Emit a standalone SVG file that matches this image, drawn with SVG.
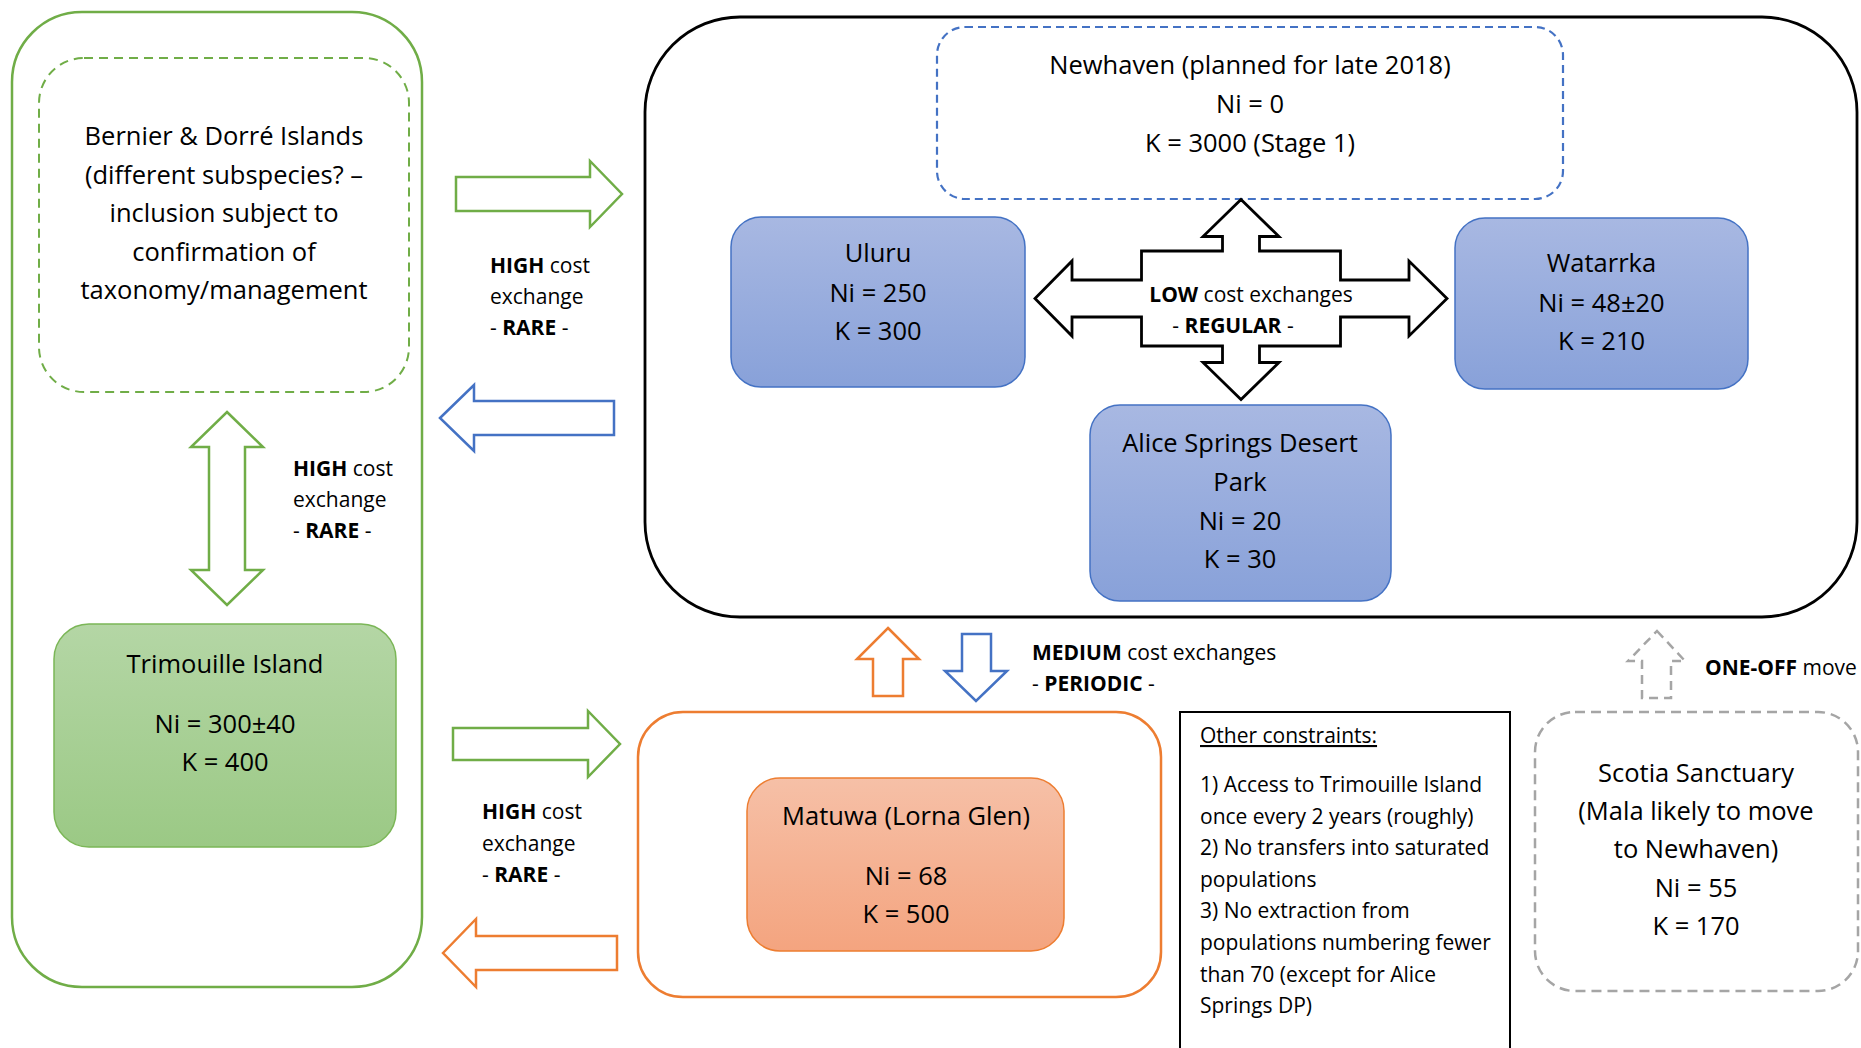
<svg xmlns="http://www.w3.org/2000/svg" width="1861" height="1048" viewBox="0 0 1861 1048">
<defs>
<linearGradient id="gBlue" x1="0" y1="0" x2="0" y2="1"><stop offset="0" stop-color="#A8B8E2"/><stop offset="1" stop-color="#88A1D9"/></linearGradient>
<linearGradient id="gGreen" x1="0" y1="0" x2="0" y2="1"><stop offset="0" stop-color="#B4D6A5"/><stop offset="1" stop-color="#9BC985"/></linearGradient>
<linearGradient id="gOrange" x1="0" y1="0" x2="0" y2="1"><stop offset="0" stop-color="#F6C0A7"/><stop offset="1" stop-color="#F4A47F"/></linearGradient>
<style>
text{font-family:"Open Sans","Noto Sans",sans-serif;fill:#000}
.n{font-size:25.5px;text-anchor:middle}
.s{font-size:21px}
.c{text-anchor:middle}
.b{font-weight:bold}
.green{fill:none;stroke:#70AD47;stroke-width:2.5}
.blue{fill:none;stroke:#4472C4;stroke-width:2.5}
.orange{fill:none;stroke:#ED7D31;stroke-width:2.5}
</style>
</defs>
<rect width="1861" height="1048" fill="#fff"/>

<g id="west-group">
<rect x="12" y="12" width="410" height="975" rx="70" class="green"/>
</g>
<g id="bernier-dorre">
<rect x="39" y="58" width="370" height="334" rx="45" fill="none" stroke="#70AD47" stroke-width="2" stroke-dasharray="9 6"/>
<text class="n" x="224" y="145">Bernier &amp; Dorré Islands</text>
<text class="n" x="224" y="183.5">(different subspecies? –</text>
<text class="n" x="224" y="222">inclusion subject to</text>
<text class="n" x="224" y="260.5">confirmation of</text>
<text class="n" x="224" y="299">taxonomy/management</text>
</g>
<g id="trimouille">
<rect x="54" y="624" width="342" height="223" rx="35" fill="url(#gGreen)" stroke="#7BB657" stroke-width="1.5"/>
<text class="n" x="225" y="673">Trimouille Island</text>
<text class="n" x="225" y="733">Ni = 300±40</text>
<text class="n" x="225" y="771">K = 400</text>
</g>

<g id="central-group">
<rect x="645" y="17" width="1212" height="600" rx="95" fill="none" stroke="#000" stroke-width="2.8"/>
</g>
<g id="newhaven">
<rect x="937" y="27" width="626" height="172" rx="28" fill="none" stroke="#4472C4" stroke-width="2.2" stroke-dasharray="8 5"/>
<text class="n" x="1250" y="74">Newhaven (planned for late 2018)</text>
<text class="n" x="1250" y="113">Ni = 0</text>
<text class="n" x="1250" y="152">K = 3000 (Stage 1)</text>
</g>
<g id="uluru">
<rect x="731" y="217" width="294" height="170" rx="30" fill="url(#gBlue)" stroke="#4472C4" stroke-width="1.5"/>
<text class="n" x="878" y="262">Uluru</text>
<text class="n" x="878" y="302">Ni = 250</text>
<text class="n" x="878" y="340">K = 300</text>
</g>
<g id="watarrka">
<rect x="1455" y="218" width="293" height="171" rx="30" fill="url(#gBlue)" stroke="#4472C4" stroke-width="1.5"/>
<text class="n" x="1601.5" y="272">Watarrka</text>
<text class="n" x="1601.5" y="312">Ni = 48±20</text>
<text class="n" x="1601.5" y="350">K = 210</text>
</g>
<g id="alice-springs">
<rect x="1090" y="405" width="301" height="196" rx="30" fill="url(#gBlue)" stroke="#4472C4" stroke-width="1.5"/>
<text class="n" x="1240" y="452">Alice Springs Desert</text>
<text class="n" x="1240" y="491">Park</text>
<text class="n" x="1240" y="530">Ni = 20</text>
<text class="n" x="1240" y="568">K = 30</text>
</g>

<g id="matuwa-group">
<rect x="638" y="712" width="523" height="285" rx="45" class="orange"/>
</g>
<g id="matuwa">
<rect x="747" y="778" width="317" height="173" rx="33" fill="url(#gOrange)" stroke="#ED7D31" stroke-width="1.5"/>
<text class="n" x="906" y="825">Matuwa (Lorna Glen)</text>
<text class="n" x="906" y="885">Ni = 68</text>
<text class="n" x="906" y="923">K = 500</text>
</g>

<g id="other-constraints">
<rect x="1180" y="712" width="330" height="400" fill="none" stroke="#000" stroke-width="2"/>
<text class="s" x="1200" y="743" text-decoration="underline">Other constraints:</text>
<text class="s" x="1200" y="792">1) Access to Trimouille Island</text>
<text class="s" x="1200" y="824">once every 2 years (roughly)</text>
<text class="s" x="1200" y="855">2) No transfers into saturated</text>
<text class="s" x="1200" y="887">populations</text>
<text class="s" x="1200" y="918">3) No extraction from</text>
<text class="s" x="1200" y="950">populations numbering fewer</text>
<text class="s" x="1200" y="982">than 70 (except for Alice</text>
<text class="s" x="1200" y="1013">Springs DP)</text>
</g>

<g id="scotia">
<rect x="1535" y="712" width="323" height="279" rx="40" fill="none" stroke="#A5A5A5" stroke-width="2.5" stroke-dasharray="10 6"/>
<text class="n" x="1696" y="782">Scotia Sanctuary</text>
<text class="n" x="1696" y="820">(Mala likely to move</text>
<text class="n" x="1696" y="858">to Newhaven)</text>
<text class="n" x="1696" y="897">Ni = 55</text>
<text class="n" x="1696" y="935">K = 170</text>
</g>

<g id="connectors">
<path class="green" d="M456,177 H590 V161 L622,194 L590,227 V211 H456 Z"/>
<path class="blue" d="M440,418 L474,385 V401 H614 V435 H474 V451 Z"/>
<path class="green" d="M227,412 L263,447 H245 V570 H263 L227,605 L191,570 H209 V447 H191 Z"/>
<path class="green" d="M453,728 H588 V711 L620,744 L588,777 V760 H453 Z"/>
<path class="orange" d="M443,953 L476,919 V936 H617 V970 H476 V987 Z"/>
<path class="orange" d="M888,628 L919,659 H903 V696 H873 V659 H857 Z"/>
<path class="blue" d="M962,634 H991 V671 H1007 L976,701 L945,671 H962 Z"/>
<path d="M1657,631 L1685,661 H1671 V698 H1642 V661 H1628 Z" fill="none" stroke="#A5A5A5" stroke-width="2.5" stroke-dasharray="9 6"/>
<path d="M1241,199.5 L1279,236.5 H1259.5 V251 H1340.5 V280 H1409 V261 L1447,298.5 L1409,336 V317 H1340.5 V346 H1259.5 V362.5 H1279 L1241,399.5 L1203,362.5 H1222.5 V346 H1141.5 V317 H1072 V336 L1035,298.5 L1072,261 V280 H1141.5 V251 H1222.5 V236.5 H1203 Z" fill="#fff" stroke="#000" stroke-width="2.8"/>

<text class="s" x="490" y="273"><tspan class="b">HIGH</tspan> cost</text>
<text class="s" x="490" y="304">exchange</text>
<text class="s" x="490" y="335">- <tspan class="b">RARE</tspan> -</text>

<text class="s" x="293" y="476"><tspan class="b">HIGH</tspan> cost</text>
<text class="s" x="293" y="507">exchange</text>
<text class="s" x="293" y="538">- <tspan class="b">RARE</tspan> -</text>

<text class="s" x="482" y="819"><tspan class="b">HIGH</tspan> cost</text>
<text class="s" x="482" y="851">exchange</text>
<text class="s" x="482" y="882">- <tspan class="b">RARE</tspan> -</text>

<text class="s c" x="1251" y="302"><tspan class="b">LOW</tspan> cost exchanges</text>
<text class="s c" x="1233" y="333">- <tspan class="b">REGULAR</tspan> -</text>

<text class="s" x="1032" y="660"><tspan class="b">MEDIUM</tspan> cost exchanges</text>
<text class="s" x="1032" y="691">- <tspan class="b">PERIODIC</tspan> -</text>

<text class="s" x="1705" y="675"><tspan class="b">ONE-OFF</tspan> move</text>
</g>
</svg>
